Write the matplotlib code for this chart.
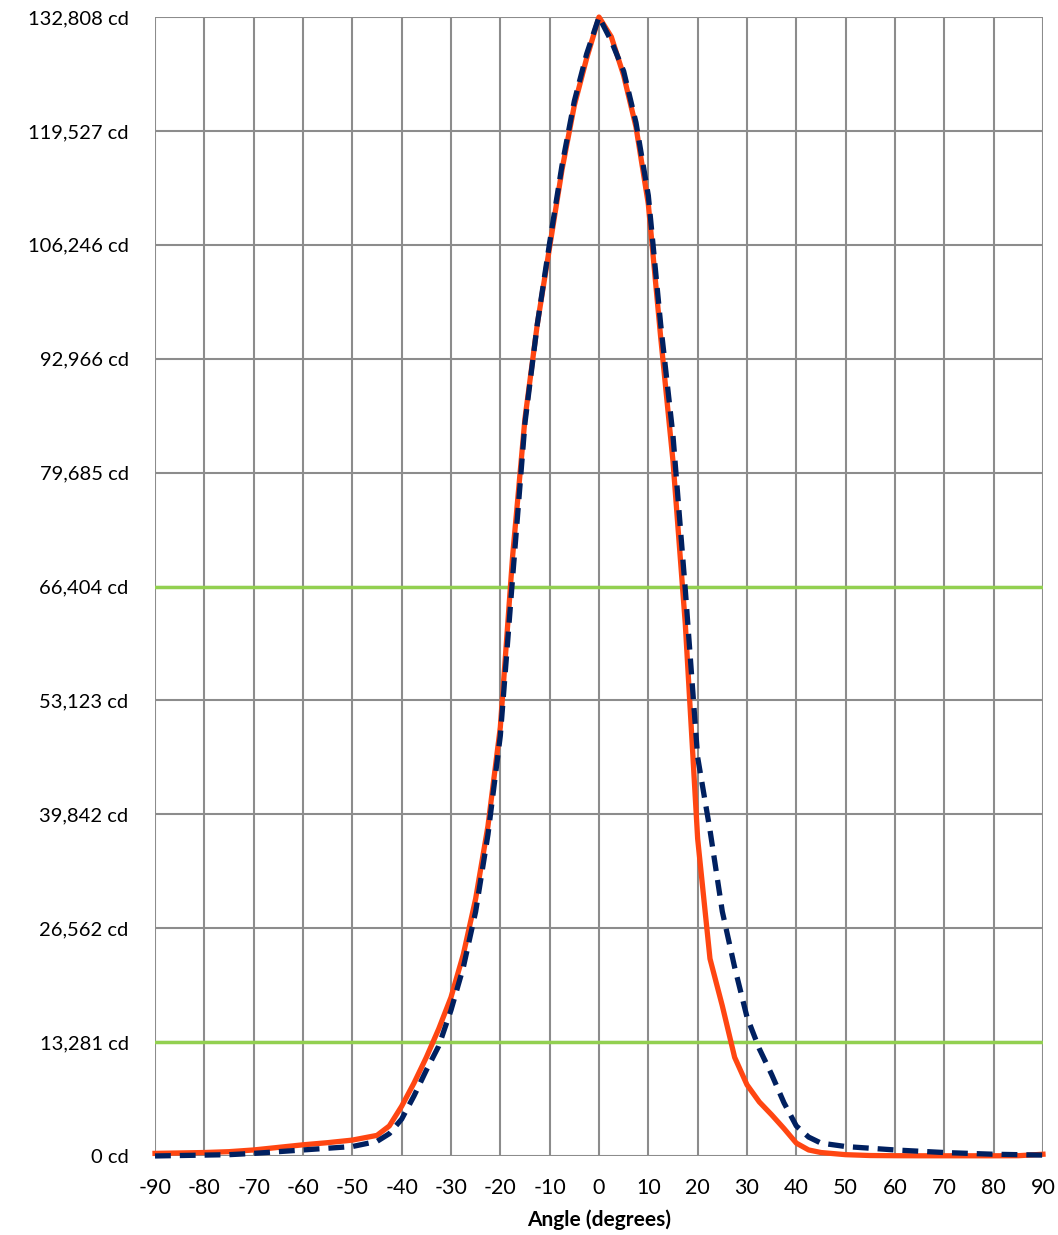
import matplotlib.pyplot as plt
from matplotlib.ticker import FuncFormatter

plt.rcParams["font.family"] = ["Lato", "DejaVu Sans"]
plt.rcParams["axes.unicode_minus"] = False

angles = [-90, -85, -80, -75, -70, -65, -60, -55, -50, -45, -42.5, -40, -37.5, -35,
          -32.5, -30, -27.5, -25, -22.5, -20, -17.5, -15, -12.5, -10, -7.5, -5, -2.5,
          0, 2.5, 5, 7.5, 10, 12.5, 15, 17.5, 20, 22.5, 25, 27.5, 30, 32.5, 35, 37.5,
          40, 42.5, 45, 50, 55, 60, 65, 70, 75, 80, 85, 90]

measured = [300, 350, 400, 500, 700, 1000, 1300, 1550, 1850, 2400, 3500, 5800, 8500, 11500,
            14800, 18500, 23500, 30000, 38500, 50000, 70000, 86000, 97000, 106000, 115000, 122500, 128000,
            132808, 130500, 126000, 120000, 111000, 95500, 81000, 62000, 37000, 23000, 17500, 11500, 8300,
            6300, 4800, 3200, 1500, 700, 400, 150, 50, 30, 20, 20, 20, 20, 30, 200]

reference = [0, 50, 100, 150, 300, 500, 700, 900, 1100, 1700, 2600, 4300, 7000, 10000,
             12800, 17000, 22000, 28500, 37500, 49000, 67500, 85500, 97000, 106500, 115500, 123000, 128500,
             132808, 130000, 126500, 120500, 112000, 97000, 84000, 66000, 46500, 38000, 28500, 22000, 16200,
             12500, 9500, 6200, 3500, 2200, 1500, 1100, 900, 700, 550, 400, 300, 200, 150, 100]

peak = 132808
half_peak = 66404
tenth_peak = 13281
yticks = [round(peak * i / 10) for i in range(11)]
xticks = list(range(-90, 91, 10))

fig = plt.figure(figsize=(10.58, 12.35), dpi=100)
ax = fig.add_axes([0.1465, 0.064, 0.8393, 0.9222])

ax.set_xlim(-90, 90)
ax.set_ylim(0, peak)
ax.set_xticks(xticks)
ax.set_yticks(yticks)
ax.yaxis.set_major_formatter(FuncFormatter(lambda v, p: f"{round(v):,} cd"))
ax.grid(True, color="#8c8c8c", linewidth=1.5, zorder=0)
ax.set_axisbelow(True)
for s in ax.spines.values():
    s.set_visible(False)
ax.tick_params(axis="y", length=0, labelsize=14.5, pad=19)
ax.tick_params(axis="x", length=0, labelsize=15.5, pad=16)

ax.axhline(half_peak, color="#92d050", linewidth=2.5, zorder=2)
ax.axhline(tenth_peak, color="#92d050", linewidth=2.5, zorder=2)

ax.plot(angles, measured, color="#ff4612", linewidth=3.8, zorder=3, clip_on=False)
ax.plot(angles, reference, color="#002060", linewidth=3.8, linestyle=(0, (3.0, 1.7)),
        zorder=4, clip_on=False)

ax.set_xlabel("Angle (degrees)", fontsize=15, fontweight="bold", labelpad=8)

fig.savefig("out.png", dpi=100)
